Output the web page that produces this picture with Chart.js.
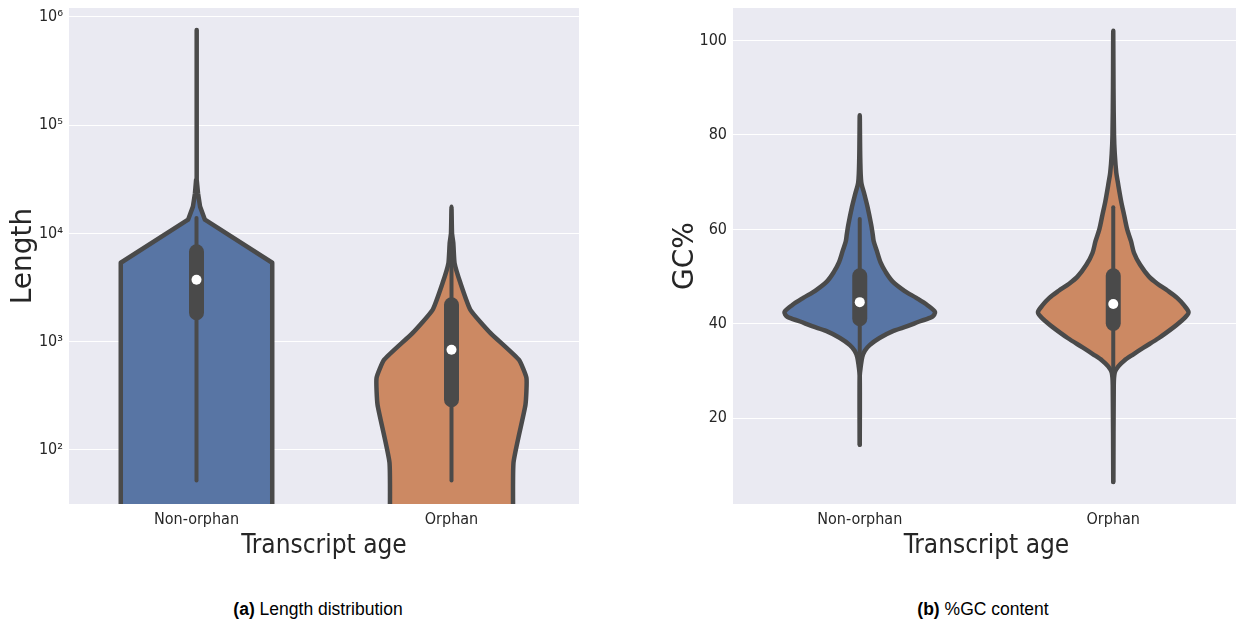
<!DOCTYPE html>
<html><head><meta charset="utf-8">
<script src="https://cdn.jsdelivr.net/npm/chart.js@4.4.1/dist/chart.umd.min.js"></script>
<style>
html,body{margin:0;padding:0;background:#fff;width:1236px;height:622px;overflow:hidden;position:relative}
.wrap{position:absolute;top:0}
#w1{left:0;width:600px;height:562px}
#w2{left:660px;width:585px;height:562px}
.cap{position:absolute;top:599px;font-family:'Liberation Sans',Arial,sans-serif;font-size:17.5px;line-height:20px;color:#000;white-space:nowrap;transform:translateX(-50%)}
</style></head><body>
<div class="wrap" id="w1"><canvas id="c1" width="600" height="562"></canvas></div>
<div class="wrap" id="w2"><canvas id="c2" width="585" height="562"></canvas></div>
<div class="cap" style="left:318px"><b>(a)</b> Length distribution</div>
<div class="cap" style="left:983px"><b>(b)</b> %GC content</div>
<script>
// ---------- data ----------
const lengthCategories = ['Non-orphan', 'Orphan'];
const lengthTickValues = [1e2, 1e3, 1e4, 1e5, 1e6];
const lengthTickLabels = ['10²', '10³', '10⁴', '10⁵', '10⁶'];
// violin outline: length levels and half-widths (density, category units)
const lengthNonOrphanLevels = [10, 5360, 13400, 17700, 23500, 31300, 760000];
const lengthNonOrphanHalfWidths = [0.297, 0.297, 0.033, 0.014, 0.006, 0.0015, 0];
const lengthOrphanLevels = [10, 75.7, 261, 461, 681, 1200, 1970, 3480, 5320, 8200, 10000, 17600];
const lengthOrphanHalfWidths = [0.243, 0.243, 0.290, 0.294, 0.264, 0.153, 0.074, 0.035, 0.012, 0.007, 0.002, 0];
const lengthMedians = [3730, 841];
const lengthQ1 = [1850, 291];
const lengthQ3 = [6760, 2190];
const lengthWhiskerLow = [52, 52];
const lengthWhiskerHigh = [13900, 8000];

const gcCategories = ['Non-orphan', 'Orphan'];
const gcTickValues = [20, 40, 60, 80, 100];
const gcTickLabels = ['20', '40', '60', '80', '100'];
const gcNonOrphanLevels = [14.4, 29, 31, 33, 34.3, 35.5, 37, 38.5, 39.5, 40.5, 41.5, 42.5, 44, 45.5, 47, 49, 51, 53, 55.5, 57.5, 59, 61, 64.7, 67.5, 70, 75, 84.2];
const gcNonOrphanHalfWidths = [0, 0, 0.004, 0.010, 0.020, 0.039, 0.078, 0.133, 0.188, 0.235, 0.286, 0.297, 0.266, 0.223, 0.176, 0.129, 0.102, 0.082, 0.067, 0.055, 0.051, 0.045, 0.031, 0.018, 0.006, 0.002, 0];
const gcOrphanLevels = [6.5, 27, 29.7, 31, 32.2, 33.5, 35, 37, 39.3, 40.5, 41.5, 42.5, 44, 45.5, 47, 48.5, 50, 52.5, 55, 57.5, 60, 63, 66, 70, 72, 76, 80, 90, 102.1];
const gcOrphanHalfWidths = [0, 0.002, 0.006, 0.020, 0.043, 0.078, 0.121, 0.180, 0.239, 0.266, 0.286, 0.297, 0.278, 0.252, 0.215, 0.174, 0.141, 0.106, 0.082, 0.070, 0.055, 0.043, 0.031, 0.018, 0.012, 0.006, 0.003, 0.001, 0];
const gcMedians = [44.6, 44.2];
const gcQ1 = [41.1, 40.1];
const gcQ3 = [50.2, 50.2];
const gcWhiskerLow = [14.4, 6.5];
const gcWhiskerHigh = [62.2, 64.7];

// ---------- styles ----------
const GRAY = '#4a4a4a';
const BLUE = '#5875a4';
const ORANGE = '#cc8963';
const TEXT = '#262626';
const COND = "'DejaVu Sans Condensed', 'DejaVu Sans', sans-serif";
const REG = "'DejaVu Sans', sans-serif";

const plotBg = {
  id: 'plotBg',
  beforeDraw(chart) {
    const {ctx, chartArea: a} = chart;
    ctx.save();
    ctx.fillStyle = '#eaeaf2';
    ctx.fillRect(a.left, a.top, a.right - a.left, a.bottom - a.top);
    ctx.restore();
  }
};

function violinPoints(center, levels, hws) {
  const pts = [];
  for (let i = 0; i < levels.length; i++) pts.push({x: center - hws[i], y: levels[i]});
  for (let i = levels.length - 1; i >= 0; i--) {
    if (i === levels.length - 1 && hws[i] === 0) continue;
    pts.push({x: center + hws[i], y: levels[i]});
  }
  return pts;
}

function buildDatasets(violins, med, q1, q3, wlo, whi) {
  const ds = [];
  violins.forEach((v, i) => {
    ds.push({
      order: 4,
      data: violinPoints(i, v.levels, v.hws), showLine: true, fill: 'shape',
      backgroundColor: v.color, borderColor: GRAY, borderWidth: 4.5,
      borderJoinStyle: 'round', borderCapStyle: 'round', tension: v.tension,
      pointRadius: 0, pointHoverRadius: 0, clip: 0
    });
    ds.push({
      order: 3,
      data: [{x: i, y: wlo[i]}, {x: i, y: whi[i]}], showLine: true, fill: false,
      borderColor: GRAY, borderWidth: 4, borderCapStyle: 'round', pointRadius: 0, pointHoverRadius: 0, clip: 0
    });
    ds.push({
      order: 2,
      data: [{x: i, y: q1[i]}, {x: i, y: q3[i]}], showLine: true, fill: false,
      borderColor: GRAY, borderWidth: 15, borderCapStyle: 'round', pointRadius: 0, pointHoverRadius: 0, clip: 0
    });
    ds.push({
      order: 1,
      data: [{x: i, y: med[i]}], showLine: false,
      pointRadius: 5, pointBackgroundColor: '#ffffff', pointBorderColor: '#ffffff', pointBorderWidth: 0,
      pointHoverRadius: 5, clip: 0
    });
  });
  return ds;
}

function makeChart(canvas, cfg) {
  return new Chart(canvas, {
    type: 'scatter',
    data: {datasets: cfg.datasets},
    plugins: [plotBg],
    options: {
      responsive: false, animation: false, events: [], devicePixelRatio: 1,
      layout: {padding: cfg.padding},
      plugins: {legend: {display: false}, tooltip: {enabled: false}},
      scales: {
        x: {
          type: 'linear', min: -0.5, max: 1.5,
          afterBuildTicks: s => { s.ticks = cfg.categories.map((_, i) => ({value: i})); },
          afterFit: s => { s.height = 58; s.paddingLeft = 0; s.paddingRight = 0; },
          ticks: {callback: v => cfg.categories[v], font: {family: COND, size: 16}, color: TEXT, padding: 6, autoSkip: false, maxRotation: 0},
          grid: {display: false, drawTicks: false},
          border: {display: false},
          title: {display: true, text: 'Transcript age', font: {family: COND, size: 26}, color: TEXT, padding: {top: 0, bottom: 0}}
        },
        y: Object.assign({
          afterBuildTicks: s => { s.ticks = cfg.tickValues.map(v => ({value: v})); },
          afterFit: s => { s.width = cfg.yWidth; s.paddingTop = 0; s.paddingBottom = 0; },
          ticks: {callback: v => cfg.tickLabels[cfg.tickValues.indexOf(v)], font: {family: COND, size: 16}, color: TEXT, padding: 6},
          grid: {color: '#ffffff', lineWidth: 1, drawTicks: false},
          border: {display: false},
          title: {display: true, text: cfg.yTitle, font: {family: REG, size: 28}, color: TEXT, padding: {top: cfg.yTitlePad, bottom: 0}}
        }, cfg.yScale)
      }
    }
  });
}

Chart.defaults.font.family = COND;

makeChart(document.getElementById('c1'), {
  categories: lengthCategories,
  tickValues: lengthTickValues, tickLabels: lengthTickLabels,
  yTitle: 'Length', yTitlePad: 7, yWidth: 69,
  padding: {top: 8, right: 21, bottom: 0, left: 0},
  yScale: {type: 'logarithmic', min: Math.pow(10, 1.5), max: Math.pow(10, 6.083)},
  datasets: buildDatasets([
    {levels: lengthNonOrphanLevels, hws: lengthNonOrphanHalfWidths, color: BLUE, tension: 0},
    {levels: lengthOrphanLevels, hws: lengthOrphanHalfWidths, color: ORANGE, tension: 0.15}
  ], lengthMedians, lengthQ1, lengthQ3, lengthWhiskerLow, lengthWhiskerHigh)
});

makeChart(document.getElementById('c2'), {
  categories: gcCategories,
  tickValues: gcTickValues, tickLabels: gcTickLabels,
  yTitle: 'GC%', yTitlePad: 9, yWidth: 73,
  padding: {top: 8, right: 0, bottom: 0, left: 0},
  yScale: {type: 'linear', min: 1.84, max: 106.9},
  datasets: buildDatasets([
    {levels: gcNonOrphanLevels, hws: gcNonOrphanHalfWidths, color: BLUE, tension: 0.3},
    {levels: gcOrphanLevels, hws: gcOrphanHalfWidths, color: ORANGE, tension: 0.3}
  ], gcMedians, gcQ1, gcQ3, gcWhiskerLow, gcWhiskerHigh)
});
</script>
</body></html>
